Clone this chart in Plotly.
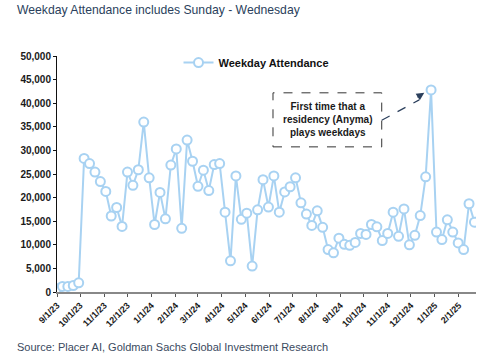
import pandas as pd
import plotly.graph_objects as go

start_date = "2023-09-01"
n_weeks = 78
weekday_attendance = [
    700, 1170, 1170, 1380, 1950, 28300, 27200, 25400, 23400, 21300,
    16100, 17900, 13900, 25400, 22600, 25900, 36000, 24200, 14300, 21100,
    15500, 26900, 30300, 13500, 32200, 27700, 22400, 25800, 21500, 27000,
    27200, 16900, 6600, 24600, 15400, 16700, 5500, 17400, 23800, 18000,
    24600, 16900, 21200, 22300, 24200, 18900, 16500, 14100, 17200, 13700,
    9000, 8300, 11400, 10100, 9900, 10500, 12400, 12200, 14300, 13800,
    10900, 12400, 16900, 11800, 17600, 10000, 12000, 16200, 24400, 42800,
    12700, 11100, 15300, 12700, 10400, 9000, 18700, 14800,
]
dates = pd.date_range(start_date, periods=n_weeks, freq="7D")

title_text = "Weekday Attendance includes Sunday - Wednesday"
source_text = "Source: Placer AI, Goldman Sachs Global Investment Research"
series_name = "Weekday Attendance"
note_text = "First time that a<br>residency (Anyma)<br>plays weekdays"

LINE = "#a8d2f2"
NAVY = "#2b3f5c"
TXT_FONT = "Liberation Sans, Arial, sans-serif"

fig = go.Figure()
fig.add_trace(go.Scatter(
    x=dates, y=weekday_attendance, name=series_name, mode="lines+markers",
    line=dict(color=LINE, width=2),
    marker=dict(symbol="circle", size=9, color="white", line=dict(color=LINE, width=2)),
))

fig.update_layout(
    width=498, height=364,
    margin=dict(l=57, r=22, t=56, b=72),
    paper_bgcolor="white", plot_bgcolor="white",
    font=dict(family="Liberation Sans, Arial, sans-serif", color="#1a1a1a"),
    showlegend=True,
    legend=dict(orientation="h", x=0.29, xanchor="left", y=0.972, yanchor="middle",
                font=dict(size=11, color="#111111", weight="bold"),
                bgcolor="rgba(0,0,0,0)", itemwidth=30),
    xaxis=dict(
        type="date", range=["2023-09-01", "2025-02-23"],
        tick0="2023-09-01", dtick="M1", tickformat="%-m/%-d/%y",
        tickangle=-45, ticks="outside", ticklen=3, tickcolor="#555555",
        showline=True, linecolor="#888888", linewidth=1.5,
        showgrid=False, zeroline=False,
        tickfont=dict(size=9, color="#1a1a1a", weight="bold"),
    ),
    yaxis=dict(
        range=[0, 50000], tick0=0, dtick=5000, tickformat=",d",
        ticks="outside", ticklen=3, tickcolor="#111111",
        showline=True, linecolor="#111111", linewidth=1,
        showgrid=False, zeroline=False,
        tickfont=dict(size=10, color="#1a1a1a", weight="bold"),
    ),
)

# title and source
fig.add_annotation(text=title_text, xref="paper", yref="paper",
                   x=-0.1002, y=1.195, xanchor="left", yanchor="middle", showarrow=False,
                   font=dict(family=TXT_FONT, size=12.2, color=NAVY))
fig.add_annotation(text=source_text, xref="paper", yref="paper",
                   x=-0.1002, y=-0.2335, xanchor="left", yanchor="middle", showarrow=False,
                   font=dict(family=TXT_FONT, size=11, color="#3a4a60"))

# annotation box
bx0, bx1, by0, by1 = 0.5155, 0.775, 0.615, 0.844
fig.add_shape(type="rect", xref="paper", yref="paper", x0=bx0, x1=bx1, y0=by0, y1=by1,
              line=dict(color="#333333", width=1, dash="dash"), fillcolor="white", layer="above")
fig.add_annotation(text=note_text, xref="paper", yref="paper",
                   x=(bx0 + bx1) / 2, y=(by0 + by1) / 2, xanchor="center", yanchor="middle",
                   showarrow=False, font=dict(size=10, color="#1a1a1a", weight="bold"),
                   align="center")
# dashed arrow
ax0, ay0, ax1, ay1 = 0.775, 0.728, 0.8766, 0.844
fig.add_shape(type="line", xref="paper", yref="paper", x0=ax0, y0=ay0, x1=ax1 - 0.012, y1=ay1 - 0.03,
              line=dict(color=NAVY, width=1.2, dash="dash"))
fig.add_annotation(text="", xref="paper", yref="paper", x=ax1, y=ay1, ax=-8.4, ay=5.4,
                   showarrow=True, arrowhead=2, arrowsize=1.3, arrowwidth=1.2, arrowcolor=NAVY,
                   standoff=0)

fig.write_html("out.html", config={"displayModeBar": False},
               post_script="document.body.style.margin='0';document.body.style.overflow='hidden';")
